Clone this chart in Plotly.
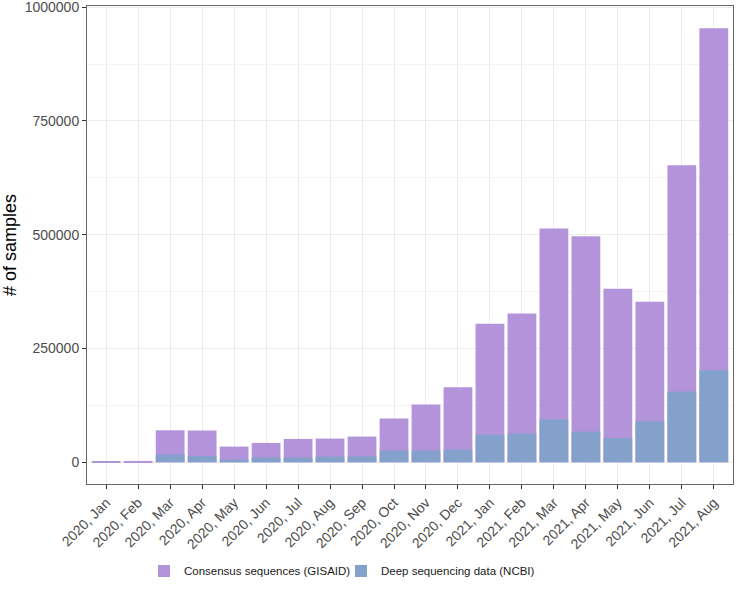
import plotly.graph_objects as go

months = ["2020, Jan", "2020, Feb", "2020, Mar", "2020, Apr", "2020, May", "2020, Jun",
          "2020, Jul", "2020, Aug", "2020, Sep", "2020, Oct", "2020, Nov", "2020, Dec",
          "2021, Jan", "2021, Feb", "2021, Mar", "2021, Apr", "2021, May", "2021, Jun",
          "2021, Jul", "2021, Aug"]

gisaid = [800, 3000, 70400, 69700, 34500, 42600, 51400, 52100, 56500, 96000,
          127000, 165000, 304500, 327000, 514000, 497000, 381500, 353000, 652800, 954000]

ncbi = [0, 0, 17000, 14000, 6000, 10300, 10300, 12500, 13200, 25700,
        25700, 28000, 60300, 63000, 94600, 67500, 52800, 90200, 155600, 202400]

ytickvals = [0, 250000, 500000, 750000, 1000000]

PURPLE = "#B393D9"
BLUE = "#84A1CC"
FONT = "Liberation Sans, Arial, sans-serif"

fig = go.Figure()
fig.add_trace(go.Bar(x=months, y=gisaid, name="Consensus sequences (GISAID)",
                     marker=dict(color=PURPLE, line=dict(width=0)), width=0.9))
fig.add_trace(go.Bar(x=months, y=ncbi, name="Deep sequencing data (NCBI)",
                     marker=dict(color=BLUE, line=dict(width=0)), width=0.9))

fig.update_layout(
    width=740, height=592,
    margin=dict(l=87, r=7, t=6, b=108, autoexpand=False),
    barmode="overlay",
    paper_bgcolor="white", plot_bgcolor="white",
    font=dict(family=FONT, color="#4D4D4D", size=14),
    showlegend=True,
    legend=dict(orientation="h", x=0.0882, xanchor="left", y=-0.182, yanchor="middle",
                font=dict(size=11.5, color="#1A1A1A", family=FONT),
                traceorder="normal", itemwidth=30, entrywidth=152),
    xaxis=dict(
        type="category", categoryorder="array", categoryarray=months,
        range=[-0.6, 19.6], tickangle=-45, automargin=False,
        showgrid=True, gridcolor="#EBEBEB", gridwidth=1,
        ticks="outside", ticklen=4, tickcolor="#333333", tickwidth=1,
        showline=True, linecolor="#666666", linewidth=1, mirror=True,
        tickfont=dict(size=14, color="#4D4D4D"),
        zeroline=False,
    ),
    yaxis=dict(
        range=[-47700, 1002700], automargin=False,
        tickvals=ytickvals, ticktext=[str(v) for v in ytickvals],
        ticklabeloverflow="allow",
        showgrid=True, gridcolor="#EBEBEB", gridwidth=1,
        minor=dict(tickvals=[125000, 375000, 625000, 875000], showgrid=True,
                   gridcolor="#F4F4F4", gridwidth=1, ticks=""),
        ticks="outside", ticklen=4, tickcolor="#333333", tickwidth=1,
        showline=True, linecolor="#666666", linewidth=1, mirror=True,
        tickfont=dict(size=14, color="#4D4D4D"),
        title=dict(text="# of samples", font=dict(size=18, color="black"), standoff=6),
        zeroline=False,
    ),
)

fig.write_html("out.html")
